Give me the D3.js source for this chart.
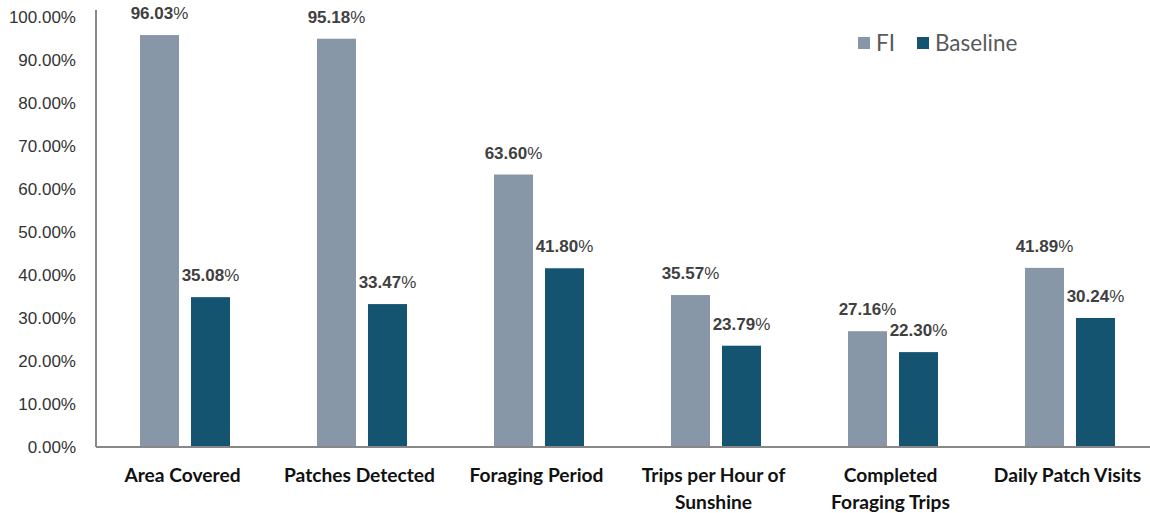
<!DOCTYPE html>
<html><head><meta charset="utf-8">
<script src="https://cdn.jsdelivr.net/npm/d3@7"></script>
<style>body{margin:0;background:#fff}svg{display:block}</style>
</head><body>
<script>
const categories = [["Area Covered"],["Patches Detected"],["Foraging Period"],["Trips per Hour of","Sunshine"],["Completed","Foraging Trips"],["Daily Patch Visits"]];
const seriesNames = ["FI","Baseline"];
const fiValues = [96.03, 95.18, 63.60, 35.57, 27.16, 41.89];
const baselineValues = [35.08, 33.47, 41.80, 23.79, 22.30, 30.24];
const yTicks = [0,10,20,30,40,50,60,70,80,90,100];
const colors = ["#8797a8","#145470"];

const W=1150,H=513;
const mLeft=96, mRight=1158, mTop=18, mBottom=448;
const svg=d3.select("body").append("svg").attr("width",W).attr("height",H);
const keys = categories.map(c=>c.join(" "));
const x = d3.scaleBand().domain(keys).range([mLeft,mRight]).paddingInner(0).paddingOuter(0);
const y = d3.scaleLinear().domain([0,100]).range([mBottom,mTop]);
const inner = d3.scaleBand().domain(seriesNames).range([0,90]).paddingInner(0.235);
const groupOffset = 44;

// y tick labels
const yAxis = d3.axisLeft(y).tickValues(yTicks).tickFormat(d=>d3.format(".2f")(d)+"%").tickSize(0).tickPadding(20);
const gy = svg.append("g").attr("transform",`translate(${mLeft},-1)`).call(yAxis);
gy.select(".domain").remove();
gy.selectAll("text").attr("font-family","Liberation Sans, Arial, sans-serif").attr("font-size",17).attr("fill","#333");

const data = keys.map((k,i)=>({k, vals:[fiValues[i], baselineValues[i]]}));
const g = svg.append("g");
data.forEach(d=>{
  seriesNames.forEach((s,j)=>{
    const bx = x(d.k)+groupOffset+inner(s);
    const v = d.vals[j];
    g.append("rect").attr("x",bx).attr("y",y(v)).attr("width",inner.bandwidth()).attr("height",y(0)-y(v)).attr("fill",colors[j]);
    const t = g.append("text").attr("x",bx+inner.bandwidth()/2).attr("y",y(v)-16).attr("text-anchor","middle")
      .attr("font-family","Liberation Sans, Arial, sans-serif").attr("font-size",17).attr("fill","#404040");
    t.append("tspan").attr("font-weight","bold").text(d3.format(".2f")(v));
    t.append("tspan").text("%");
  });
});

// axes lines
svg.append("line").attr("x1",mLeft).attr("x2",mLeft).attr("y1",10).attr("y2",447).attr("stroke","#888").attr("stroke-width",2);
svg.append("line").attr("x1",mLeft).attr("x2",W).attr("y1",447).attr("y2",447).attr("stroke","#888").attr("stroke-width",2);

// category labels
categories.forEach((c,i)=>{
  const cx = x(keys[i])+x.bandwidth()/2-2;
  const t = svg.append("text").attr("x",cx).attr("y",482).attr("text-anchor","middle")
    .attr("font-family","Lato, sans-serif").attr("font-weight","bold").attr("font-size",19.2).attr("fill","#111");
  c.forEach((line,li)=>t.append("tspan").attr("x",cx).attr("dy",li?27:0).text(line));
});

// legend
const leg = svg.append("g");
const legItems=[{n:"FI",x:858},{n:"Baseline",x:917}];
legItems.forEach((it,j)=>{
  leg.append("rect").attr("x",it.x).attr("y",37).attr("width",12).attr("height",12).attr("fill",colors[j]);
  leg.append("text").attr("x",it.x+18).attr("y",51).attr("font-family","Lato, sans-serif").attr("font-size",22.5).attr("fill","#595959").text(it.n);
});
</script>
</body></html>
